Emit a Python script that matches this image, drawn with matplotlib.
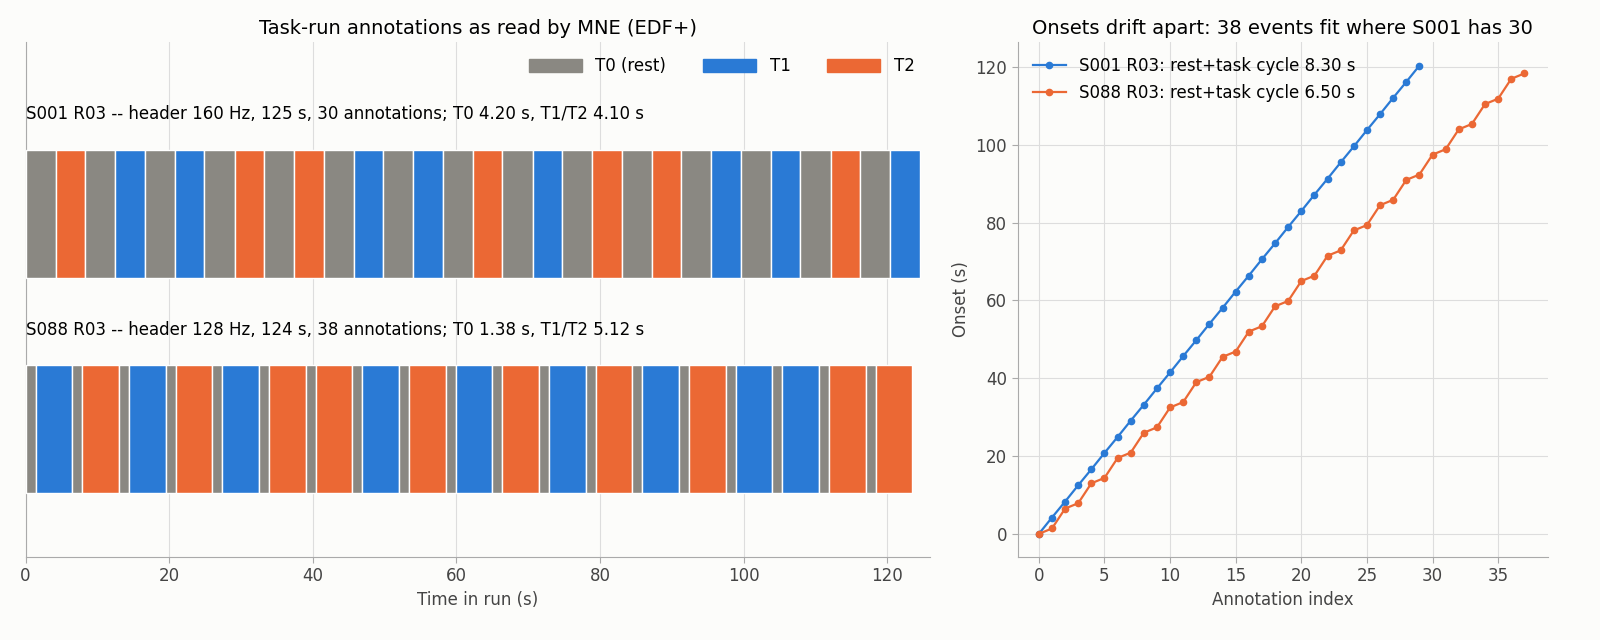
import numpy as np
import matplotlib.pyplot as plt
from matplotlib.patches import Patch

# data
s001_tasks = ['T2', 'T1', 'T1', 'T2', 'T2', 'T1', 'T1', 'T2', 'T1', 'T2', 'T2', 'T1', 'T1', 'T2', 'T1']
s088_tasks = ['T1', 'T2', 'T1', 'T2', 'T1', 'T2', 'T2', 'T1', 'T2', 'T1', 'T2', 'T1', 'T2', 'T1', 'T2',
              'T1', 'T1', 'T2', 'T2']
s001_rest, s001_task = 4.20, 4.10
s088_rest, s088_task = 1.38, 5.12
s001_label = 'S001 R03 -- header 160 Hz, 125 s, 30 annotations; T0 4.20 s, T1/T2 4.10 s'
s088_label = 'S088 R03 -- header 128 Hz, 124 s, 38 annotations; T0 1.38 s, T1/T2 5.12 s'

colors = {'T0': '#8a8882', 'T1': '#2a7ad5', 'T2': '#eb6834'}
bg = '#fcfcfa'


def build(tasks, rest, task):
    desc, dur = [], []
    for t in tasks:
        desc += ['T0', t]
        dur += [rest, task]
    dur = np.array(dur)
    onset = np.concatenate([[0], np.cumsum(dur)[:-1]])
    return desc, onset, dur


d1, on1, du1 = build(s001_tasks, s001_rest, s001_task)
d2, on2, du2 = build(s088_tasks, s088_rest, s088_task)

fig = plt.figure(figsize=(16, 6.4), dpi=100, facecolor=bg)
ax = fig.add_axes([0.016, 0.13, 0.565, 0.804], facecolor=bg)
ax2 = fig.add_axes([0.636, 0.13, 0.3315, 0.804], facecolor=bg)

for ycen, d, on, du in [(0.666, d1, on1, du1), (0.249, d2, on2, du2)]:
    ax.barh(ycen, du, left=on, height=0.249, color=[colors[x] for x in d],
            edgecolor='white', linewidth=1, zorder=3)
ax.text(0, 0.86, s001_label, fontsize=12, va='center')
ax.text(0, 0.441, s088_label, fontsize=12, va='center')
ax.set_xlim(0, 125.9)
ax.set_ylim(0, 1)
ax.set_yticks([])
ax.grid(axis='x', color='#dddddd', linewidth=0.8, zorder=0)
ax.set_xlabel('Time in run (s)', fontsize=12, color='#444444')
ax.set_title('Task-run annotations as read by MNE (EDF+)', fontsize=14)
handles = [Patch(color=colors['T0'], label='T0 (rest)'),
           Patch(color=colors['T1'], label='T1'),
           Patch(color=colors['T2'], label='T2')]
ax.legend(handles=handles, ncol=3, loc='upper right', frameon=False, fontsize=12,
          handlelength=3.2, handleheight=0.8, columnspacing=2.2)

ax2.plot(np.arange(len(on1)), on1, '-o', color='#2a7ad5', ms=4.5, lw=1.6,
         label='S001 R03: rest+task cycle 8.30 s')
ax2.plot(np.arange(len(on2)), on2, '-o', color='#eb6834', ms=4.5, lw=1.6,
         label='S088 R03: rest+task cycle 6.50 s')
ax2.set_xlim(-1.62, 38.8)
ax2.set_ylim(-5.9, 126.4)
ax2.grid(color='#dddddd', linewidth=0.8)
ax2.set_axisbelow(True)
ax2.set_xlabel('Annotation index', fontsize=12, color='#444444')
ax2.set_ylabel('Onset (s)', fontsize=12, color='#444444')
ax2.set_title('Onsets drift apart: 38 events fit where S001 has 30', fontsize=14)
ax2.legend(loc='upper left', frameon=False, fontsize=12)

for a in (ax, ax2):
    for s in ('top', 'right'):
        a.spines[s].set_visible(False)
    for s in ('left', 'bottom'):
        a.spines[s].set_color('#aaaaaa')
    a.tick_params(labelsize=12, colors='#444444', length=4)
    a.tick_params(color='#aaaaaa')

fig.savefig('out.png', facecolor=bg)
